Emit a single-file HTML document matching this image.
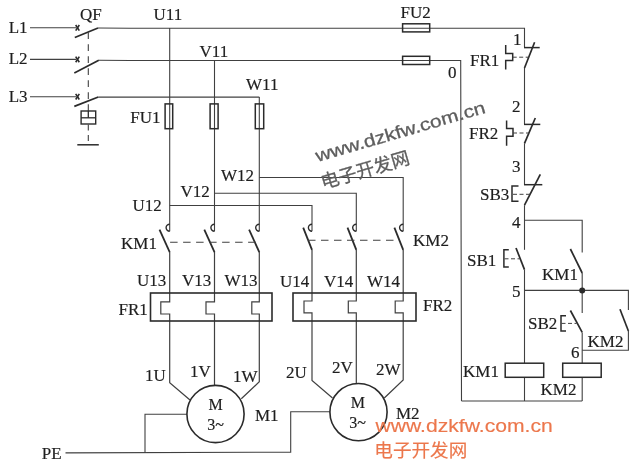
<!DOCTYPE html>
<html><head><meta charset="utf-8"><title>circuit</title>
<style>
html,body{margin:0;padding:0;background:#fff;}
body{width:640px;height:467px;overflow:hidden;font-family:"Liberation Serif",serif;}
svg{display:block;will-change:transform}
</style></head><body>
<svg width="640" height="467" viewBox="0 0 640 467">
<rect width="640" height="467" fill="#ffffff"/>
<g><path d="M30.0,27.8 L76.0,27.8" stroke="#404040" stroke-width="1.1" fill="none"/>
<path d="M30.0,59.4 L76.0,59.4" stroke="#404040" stroke-width="1.1" fill="none"/>
<path d="M30.0,96.7 L76.0,96.7" stroke="#404040" stroke-width="1.1" fill="none"/>
<path d="M98.0,28.0 L130.0,28.3 L524.5,28.3 L524.5,47.6" stroke="#404040" stroke-width="1.1" fill="none"/>
<path d="M98.8,60.2 L130.0,60.5 L460.7,60.5 L461.5,401.0" stroke="#404040" stroke-width="1.1" fill="none"/>
<path d="M98.3,97.1 L259.3,97.1" stroke="#404040" stroke-width="1.1" fill="none"/>
<path d="M169.7,28.0 L169.7,231.2" stroke="#404040" stroke-width="1.1" fill="none"/>
<path d="M214.5,60.3 L214.5,231.2" stroke="#404040" stroke-width="1.1" fill="none"/>
<path d="M259.3,97.1 L259.3,231.2" stroke="#404040" stroke-width="1.1" fill="none"/>
<path d="M169.7,205.5 L312.0,205.5 L312.0,231.2" stroke="#404040" stroke-width="1.1" fill="none"/>
<path d="M214.5,193.3 L356.3,193.3 L356.3,231.2" stroke="#404040" stroke-width="1.1" fill="none"/>
<path d="M259.3,177.5 L403.2,177.5 L403.2,231.2" stroke="#404040" stroke-width="1.1" fill="none"/>
<path d="M169.7,252.0 L169.7,301.8 L160.8,301.8 L160.8,314.0 L169.7,314.0 L169.7,382.8 L190.0,400.0" stroke="#404040" stroke-width="1.2" fill="none"/>
<path d="M214.5,252.0 L214.5,301.8 L206.0,301.8 L206.0,314.0 L214.5,314.0 L214.5,385.0" stroke="#404040" stroke-width="1.2" fill="none"/>
<path d="M259.3,252.0 L259.3,301.8 L251.8,301.8 L251.8,314.0 L259.3,314.0 L259.3,381.8 L241.3,398.8" stroke="#404040" stroke-width="1.2" fill="none"/>
<path d="M312.0,249.8 L312.0,301.0 L304.0,301.0 L304.0,312.8 L312.0,312.8 L312.0,380.5 L332.5,398.0" stroke="#404040" stroke-width="1.2" fill="none"/>
<path d="M356.3,249.8 L356.3,301.0 L348.3,301.0 L348.3,312.8 L356.3,312.8 L356.3,385.0" stroke="#404040" stroke-width="1.2" fill="none"/>
<path d="M403.2,249.8 L403.2,301.0 L395.2,301.0 L395.2,312.8 L403.2,312.8 L403.2,380.0 L384.3,398.0" stroke="#404040" stroke-width="1.2" fill="none"/>
<path d="M65.5,452.9 L290.7,452.1 L290.7,411.8 L330.0,411.8" stroke="#404040" stroke-width="1.1" fill="none"/>
<path d="M145.0,452.6 L145.0,414.2 L187.0,414.2" stroke="#404040" stroke-width="1.1" fill="none"/>
<path d="M524.5,68.0 L524.5,124.4" stroke="#404040" stroke-width="1.1" fill="none"/>
<path d="M524.5,143.3 L524.5,184.7" stroke="#404040" stroke-width="1.1" fill="none"/>
<path d="M524.5,205.2 L524.5,249.8" stroke="#404040" stroke-width="1.1" fill="none"/>
<path d="M524.5,220.3 L582.2,220.3 L582.2,252.4" stroke="#404040" stroke-width="1.1" fill="none"/>
<path d="M582.2,273.0 L582.2,313.0" stroke="#404040" stroke-width="1.1" fill="none"/>
<path d="M524.5,269.6 L524.5,363.2" stroke="#404040" stroke-width="1.1" fill="none"/>
<path d="M524.5,290.4 L628.4,290.4 L628.4,310.0" stroke="#404040" stroke-width="1.1" fill="none"/>
<path d="M582.2,332.4 L582.2,363.2" stroke="#404040" stroke-width="1.1" fill="none"/>
<path d="M628.4,331.0 L628.4,350.3 L582.2,350.3" stroke="#404040" stroke-width="1.1" fill="none"/>
<path d="M524.5,377.3 L524.5,401.0" stroke="#404040" stroke-width="1.1" fill="none"/>
<path d="M582.2,377.3 L582.2,401.0" stroke="#404040" stroke-width="1.1" fill="none"/>
<path d="M461.5,401.0 L582.2,401.0" stroke="#404040" stroke-width="1.1" fill="none"/></g>
<g><path d="M75.7,25.0 L79.3,30.6" stroke="#2b2b2b" stroke-width="1.6" fill="none" stroke-linecap="butt"/>
<path d="M75.7,30.6 L79.3,25.0" stroke="#2b2b2b" stroke-width="1.6" fill="none" stroke-linecap="butt"/>
<path d="M75.7,56.6 L79.3,62.2" stroke="#2b2b2b" stroke-width="1.6" fill="none" stroke-linecap="butt"/>
<path d="M75.7,62.2 L79.3,56.6" stroke="#2b2b2b" stroke-width="1.6" fill="none" stroke-linecap="butt"/>
<path d="M75.7,93.9 L79.3,99.5" stroke="#2b2b2b" stroke-width="1.6" fill="none" stroke-linecap="butt"/>
<path d="M75.7,99.5 L79.3,93.9" stroke="#2b2b2b" stroke-width="1.6" fill="none" stroke-linecap="butt"/>
<path d="M74.8,37.5 L98.0,28.0" stroke="#2b2b2b" stroke-width="1.7" fill="none" stroke-linecap="butt"/>
<path d="M74.3,73.0 L98.8,60.2" stroke="#2b2b2b" stroke-width="1.7" fill="none" stroke-linecap="butt"/>
<path d="M74.3,106.4 L98.3,97.0" stroke="#2b2b2b" stroke-width="1.7" fill="none" stroke-linecap="butt"/>
<path d="M88.3,32.3 L88.3,111.0" stroke="#404040" stroke-width="1.1" fill="none" stroke-linecap="butt" stroke-dasharray="6.7 5.3"/>
<rect x="81.1" y="111.0" width="14.6" height="13.0" stroke="#2b2b2b" stroke-width="1.4" fill="none"/>
<path d="M81.1,117.8 L95.7,117.8" stroke="#2b2b2b" stroke-width="1.3" fill="none" stroke-linecap="butt"/>
<path d="M88.3,111.0 L88.3,117.8" stroke="#2b2b2b" stroke-width="1.3" fill="none" stroke-linecap="butt"/>
<path d="M88.3,124.6 L88.3,145.0" stroke="#404040" stroke-width="1.1" fill="none" stroke-linecap="butt" stroke-dasharray="6 4.5"/>
<path d="M77.3,144.8 L98.8,144.8" stroke="#2b2b2b" stroke-width="1.5" fill="none" stroke-linecap="butt"/>
<rect x="402.6" y="23.8" width="27.1" height="8.1" stroke="#2b2b2b" stroke-width="1.5" fill="none"/>
<rect x="402.6" y="56.3" width="27.1" height="8.2" stroke="#2b2b2b" stroke-width="1.5" fill="none"/>
<rect x="165.1" y="103.9" width="7.6" height="24.8" stroke="#2b2b2b" stroke-width="1.5" fill="none"/>
<rect x="210.1" y="103.9" width="8.0" height="24.8" stroke="#2b2b2b" stroke-width="1.5" fill="none"/>
<rect x="255.3" y="103.9" width="8.4" height="24.8" stroke="#2b2b2b" stroke-width="1.5" fill="none"/>
<path d="M169.7,224.2 A3.6,3.5 0 0 0 169.7,231.2" stroke="#2b2b2b" stroke-width="1.4" fill="none"/>
<path d="M159.5,229.6 L169.7,252.2" stroke="#2b2b2b" stroke-width="1.8" fill="none" stroke-linecap="butt"/>
<path d="M214.5,224.2 A3.6,3.5 0 0 0 214.5,231.2" stroke="#2b2b2b" stroke-width="1.4" fill="none"/>
<path d="M204.3,229.6 L214.5,252.2" stroke="#2b2b2b" stroke-width="1.8" fill="none" stroke-linecap="butt"/>
<path d="M259.3,224.2 A3.6,3.5 0 0 0 259.3,231.2" stroke="#2b2b2b" stroke-width="1.4" fill="none"/>
<path d="M249.1,229.6 L259.3,252.2" stroke="#2b2b2b" stroke-width="1.8" fill="none" stroke-linecap="butt"/>
<path d="M312.0,224.2 A3.6,3.5 0 0 0 312.0,231.2" stroke="#2b2b2b" stroke-width="1.4" fill="none"/>
<path d="M303.2,227.6 L312.0,249.8" stroke="#2b2b2b" stroke-width="1.8" fill="none" stroke-linecap="butt"/>
<path d="M356.3,224.2 A3.6,3.5 0 0 0 356.3,231.2" stroke="#2b2b2b" stroke-width="1.4" fill="none"/>
<path d="M347.5,227.6 L356.3,249.8" stroke="#2b2b2b" stroke-width="1.8" fill="none" stroke-linecap="butt"/>
<path d="M403.2,224.2 A3.6,3.5 0 0 0 403.2,231.2" stroke="#2b2b2b" stroke-width="1.4" fill="none"/>
<path d="M394.4,227.6 L403.2,249.8" stroke="#2b2b2b" stroke-width="1.8" fill="none" stroke-linecap="butt"/>
<path d="M170.1,242.3 L256.3,242.3" stroke="#404040" stroke-width="1.1" fill="none" stroke-linecap="butt" stroke-dasharray="7.5 5.5"/>
<path d="M308.0,240.3 L399.2,240.3" stroke="#404040" stroke-width="1.1" fill="none" stroke-linecap="butt" stroke-dasharray="7.5 5.5"/>
<rect x="150.5" y="293.0" width="121.5" height="28.0" stroke="#2b2b2b" stroke-width="1.6" fill="none"/>
<rect x="293.0" y="293.0" width="123.0" height="28.0" stroke="#2b2b2b" stroke-width="1.6" fill="none"/>
<circle cx="215.5" cy="414.0" r="28.6" stroke="#2b2b2b" stroke-width="1.6" fill="#fff"/>
<circle cx="358.5" cy="412.1" r="28.6" stroke="#2b2b2b" stroke-width="1.6" fill="#fff"/>
<path d="M524.0,47.6 L539.7,47.6" stroke="#2b2b2b" stroke-width="1.5" fill="none" stroke-linecap="butt"/>
<path d="M534.6,42.3 L524.5,68.0" stroke="#2b2b2b" stroke-width="1.7" fill="none" stroke-linecap="butt"/>
<path d="M524.0,124.4 L540.3,124.4" stroke="#2b2b2b" stroke-width="1.5" fill="none" stroke-linecap="butt"/>
<path d="M535.3,118.0 L524.5,143.3" stroke="#2b2b2b" stroke-width="1.7" fill="none" stroke-linecap="butt"/>
<path d="M524.0,184.7 L542.3,184.7" stroke="#2b2b2b" stroke-width="1.5" fill="none" stroke-linecap="butt"/>
<path d="M540.3,174.4 L524.5,205.2" stroke="#2b2b2b" stroke-width="1.7" fill="none" stroke-linecap="butt"/>
<path d="M505.7,45.0 L505.7,53.6 L512.7,53.6 L512.7,60.4 L505.7,60.4 L505.7,69.4" stroke="#2b2b2b" stroke-width="1.5" fill="none" stroke-linecap="butt"/>
<path d="M512.7,57.2 L528.5,57.2" stroke="#404040" stroke-width="1" fill="none" stroke-linecap="butt" stroke-dasharray="4 2.5"/>
<path d="M506.6,120.5 L506.6,128.5 L513.0,128.5 L513.0,136.2 L506.6,136.2 L506.6,145.8" stroke="#2b2b2b" stroke-width="1.5" fill="none" stroke-linecap="butt"/>
<path d="M513.0,133.0 L529.0,133.0" stroke="#404040" stroke-width="1" fill="none" stroke-linecap="butt" stroke-dasharray="4 2.5"/>
<path d="M518.5,186.0 L512.0,186.0 L512.0,201.3 L518.5,201.3" stroke="#2b2b2b" stroke-width="1.5" fill="none" stroke-linecap="butt"/>
<path d="M513.0,194.3 L531.0,194.3" stroke="#404040" stroke-width="1" fill="none" stroke-linecap="butt" stroke-dasharray="4 2.5"/>
<path d="M570.4,249.0 L582.2,273.0" stroke="#2b2b2b" stroke-width="1.7" fill="none" stroke-linecap="butt"/>
<path d="M516.0,248.0 L524.5,269.6" stroke="#2b2b2b" stroke-width="1.7" fill="none" stroke-linecap="butt"/>
<path d="M508.8,249.8 L503.9,249.8 L503.9,267.0 L508.8,267.0" stroke="#2b2b2b" stroke-width="1.5" fill="none" stroke-linecap="butt"/>
<path d="M504.5,258.8 L519.5,258.8" stroke="#404040" stroke-width="1" fill="none" stroke-linecap="butt" stroke-dasharray="4 2.5"/>
<circle cx="582.2" cy="290.4" r="3" fill="#2b2b2b"/>
<path d="M570.4,310.5 L582.2,332.4" stroke="#2b2b2b" stroke-width="1.7" fill="none" stroke-linecap="butt"/>
<path d="M566.0,315.7 L561.0,315.7 L561.0,331.0 L566.0,331.0" stroke="#2b2b2b" stroke-width="1.5" fill="none" stroke-linecap="butt"/>
<path d="M561.5,323.4 L576.5,323.4" stroke="#404040" stroke-width="1" fill="none" stroke-linecap="butt" stroke-dasharray="4 2.5"/>
<path d="M620.0,309.3 L628.4,331.0" stroke="#2b2b2b" stroke-width="1.7" fill="none" stroke-linecap="butt"/>
<rect x="505.2" y="363.2" width="38.5" height="14.1" stroke="#2b2b2b" stroke-width="1.5" fill="none"/>
<rect x="562.7" y="363.2" width="38.5" height="14.1" stroke="#2b2b2b" stroke-width="1.5" fill="none"/></g>
<g font-family="Liberation Serif, serif" fill="#1e1e1e" stroke="#1e1e1e" stroke-width="0.18"><text x="8.7" y="33.2" font-size="17" text-anchor="start">L1</text>
<text x="8.7" y="64.2" font-size="17" text-anchor="start">L2</text>
<text x="8.7" y="102.0" font-size="17" text-anchor="start">L3</text>
<text x="80.0" y="19.5" font-size="17" text-anchor="start">QF</text>
<text x="153.5" y="19.5" font-size="17" text-anchor="start">U11</text>
<text x="199.5" y="56.5" font-size="17" text-anchor="start">V11</text>
<text x="246.0" y="89.7" font-size="17" text-anchor="start">W11</text>
<text x="130.3" y="122.6" font-size="17" text-anchor="start">FU1</text>
<text x="400.5" y="17.6" font-size="17" text-anchor="start">FU2</text>
<text x="132.5" y="211.0" font-size="17" text-anchor="start">U12</text>
<text x="180.5" y="197.0" font-size="17" text-anchor="start">V12</text>
<text x="221.0" y="181.0" font-size="17" text-anchor="start">W12</text>
<text x="121.0" y="248.5" font-size="17" text-anchor="start">KM1</text>
<text x="413.0" y="245.7" font-size="17" text-anchor="start">KM2</text>
<text x="137.0" y="286.0" font-size="17" text-anchor="start">U13</text>
<text x="182.0" y="286.0" font-size="17" text-anchor="start">V13</text>
<text x="224.5" y="286.0" font-size="17" text-anchor="start">W13</text>
<text x="280.0" y="286.5" font-size="17" text-anchor="start">U14</text>
<text x="324.0" y="286.5" font-size="17" text-anchor="start">V14</text>
<text x="367.0" y="286.5" font-size="17" text-anchor="start">W14</text>
<text x="118.5" y="315.0" font-size="17" text-anchor="start">FR1</text>
<text x="423.0" y="311.0" font-size="17" text-anchor="start">FR2</text>
<text x="145.0" y="381.0" font-size="17" text-anchor="start">1U</text>
<text x="190.0" y="377.0" font-size="17" text-anchor="start">1V</text>
<text x="233.0" y="382.0" font-size="17" text-anchor="start">1W</text>
<text x="286.0" y="378.0" font-size="17" text-anchor="start">2U</text>
<text x="332.0" y="372.5" font-size="17" text-anchor="start">2V</text>
<text x="376.0" y="374.5" font-size="17" text-anchor="start">2W</text>
<text x="215.7" y="410.2" font-size="16" text-anchor="middle">M</text>
<text x="215.7" y="430.0" font-size="16" text-anchor="middle">3~</text>
<text x="357.8" y="407.7" font-size="16" text-anchor="middle">M</text>
<text x="357.5" y="427.5" font-size="16" text-anchor="middle">3~</text>
<text x="255.0" y="421.0" font-size="17" text-anchor="start">M1</text>
<text x="396.0" y="419.0" font-size="17" text-anchor="start">M2</text>
<text x="41.7" y="458.5" font-size="17" text-anchor="start">PE</text>
<text x="448.0" y="78.3" font-size="17" text-anchor="start">0</text>
<text x="513.0" y="44.8" font-size="17" text-anchor="start">1</text>
<text x="512.0" y="111.5" font-size="17" text-anchor="start">2</text>
<text x="512.0" y="171.5" font-size="17" text-anchor="start">3</text>
<text x="512.0" y="228.0" font-size="17" text-anchor="start">4</text>
<text x="512.0" y="296.5" font-size="17" text-anchor="start">5</text>
<text x="571.0" y="358.0" font-size="17" text-anchor="start">6</text>
<text x="470.0" y="65.5" font-size="17" text-anchor="start">FR1</text>
<text x="469.0" y="138.5" font-size="17" text-anchor="start">FR2</text>
<text x="480.0" y="200.3" font-size="17" text-anchor="start">SB3</text>
<text x="467.0" y="265.7" font-size="17" text-anchor="start">SB1</text>
<text x="528.0" y="328.6" font-size="17" text-anchor="start">SB2</text>
<text x="542.0" y="280.0" font-size="17" text-anchor="start">KM1</text>
<text x="587.5" y="346.7" font-size="17" text-anchor="start">KM2</text>
<text x="463.0" y="376.5" font-size="17" text-anchor="start">KM1</text>
<text x="540.5" y="394.8" font-size="17" text-anchor="start">KM2</text></g>
<g><g transform="translate(317.5,162) rotate(-16.3)" fill="#5e5e5e" stroke="#5e5e5e" stroke-width="0.3"><text x="0" y="0" font-family="Liberation Sans, sans-serif" font-size="17.5" textLength="176" lengthAdjust="spacingAndGlyphs">www.dzkfw.com.cn</text><text x="-2.3" y="27.5" font-family="Liberation Sans, Noto Sans CJK SC, sans-serif" font-size="18.3" textLength="91.5" lengthAdjust="spacingAndGlyphs">电子开发网</text></g>
<g transform="translate(375.5,431.7) rotate(0)" fill="#ec774c" stroke="#ec774c" stroke-width="0.15"><text x="0" y="0" font-family="Liberation Sans, sans-serif" font-size="17.5" textLength="177.3" lengthAdjust="spacingAndGlyphs">www.dzkfw.com.cn</text><text x="-1.2" y="25.2" font-family="Liberation Sans, Noto Sans CJK SC, sans-serif" font-size="18.6" textLength="93" lengthAdjust="spacingAndGlyphs">电子开发网</text></g></g>
</svg>
</body></html>
